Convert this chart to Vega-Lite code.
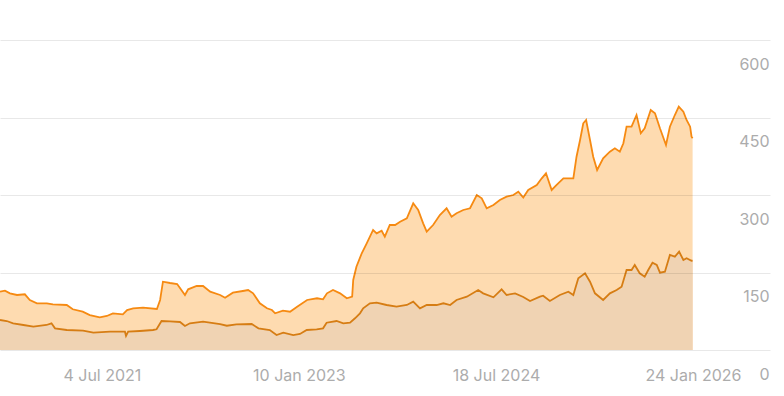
{
  "$schema": "https://vega.github.io/schema/vega-lite/v6.json",
  "width": 770,
  "height": 310,
  "autosize": {"type": "none"},
  "padding": {"left": 0, "top": 40, "right": 14, "bottom": 46},
  "background": "#ffffff",
  "config": {
    "view": {"stroke": null},
    "font": "Inter"
  },
  "datasets": {
    "upper": [
      {"date":"2020-09-20","value":112.8},{"date":"2020-10-04","value":114.8},{"date":"2020-10-18","value":109.7},{"date":"2020-11-07","value":106.5},{"date":"2020-11-29","value":107.8},{"date":"2020-12-13","value":96.8},{"date":"2021-01-02","value":90.4},{"date":"2021-01-30","value":90.4},{"date":"2021-02-16","value":88.5},{"date":"2021-03-27","value":87.1},{"date":"2021-04-13","value":78.8},{"date":"2021-05-11","value":74.1},{"date":"2021-05-31","value":67.7},{"date":"2021-06-28","value":63.3},{"date":"2021-07-18","value":65.8},{"date":"2021-08-04","value":71.0},{"date":"2021-09-01","value":69.1},{"date":"2021-09-13","value":77.4},{"date":"2021-09-30","value":80.7},{"date":"2021-10-28","value":81.9},{"date":"2021-12-06","value":79.4},{"date":"2021-12-15","value":96.8},{"date":"2021-12-23","value":132.2},{"date":"2022-01-12","value":129.7},{"date":"2022-02-01","value":127.7},{"date":"2022-02-23","value":106.5},{"date":"2022-03-04","value":117.5},{"date":"2022-03-28","value":123.9},{"date":"2022-04-15","value":123.9},{"date":"2022-05-05","value":112.8},{"date":"2022-06-02","value":106.5},{"date":"2022-06-16","value":101.2},{"date":"2022-07-08","value":110.9},{"date":"2022-08-05","value":114.2},{"date":"2022-08-20","value":116.1},{"date":"2022-09-03","value":109.7},{"date":"2022-09-22","value":90.4},{"date":"2022-10-12","value":80.7},{"date":"2022-10-26","value":77.4},{"date":"2022-11-04","value":71.0},{"date":"2022-11-26","value":76.1},{"date":"2022-12-16","value":74.1},{"date":"2023-01-05","value":83.8},{"date":"2023-02-02","value":96.8},{"date":"2023-03-02","value":100.1},{"date":"2023-03-19","value":98.1},{"date":"2023-03-30","value":109.7},{"date":"2023-04-16","value":116.1},{"date":"2023-05-06","value":109.7},{"date":"2023-05-25","value":100.1},{"date":"2023-06-09","value":103.2},{"date":"2023-06-12","value":135.5},{"date":"2023-06-21","value":161.2},{"date":"2023-07-06","value":187.2},{"date":"2023-07-20","value":206.5},{"date":"2023-08-07","value":232.3},{"date":"2023-08-17","value":225.9},{"date":"2023-08-31","value":230.9},{"date":"2023-09-09","value":219.3},{"date":"2023-09-23","value":241.9},{"date":"2023-10-08","value":241.9},{"date":"2023-10-22","value":248.3},{"date":"2023-11-10","value":254.9},{"date":"2023-11-28","value":283.9},{"date":"2023-12-12","value":271.0},{"date":"2023-12-26","value":245.2},{"date":"2024-01-05","value":229.0},{"date":"2024-01-23","value":241.9},{"date":"2024-02-11","value":261.3},{"date":"2024-03-01","value":274.3},{"date":"2024-03-15","value":258.0},{"date":"2024-03-29","value":264.6},{"date":"2024-04-17","value":271.0},{"date":"2024-05-06","value":274.3},{"date":"2024-05-25","value":300.0},{"date":"2024-06-08","value":293.6},{"date":"2024-06-22","value":274.3},{"date":"2024-07-11","value":280.6},{"date":"2024-07-29","value":290.3},{"date":"2024-08-17","value":296.7},{"date":"2024-09-05","value":300.0},{"date":"2024-09-19","value":306.4},{"date":"2024-10-03","value":295.2},{"date":"2024-10-17","value":309.7},{"date":"2024-11-10","value":319.4},{"date":"2024-11-24","value":332.3},{"date":"2024-12-06","value":342.0},{"date":"2024-12-22","value":309.7},{"date":"2025-01-05","value":319.4},{"date":"2025-01-24","value":332.3},{"date":"2025-02-21","value":332.3},{"date":"2025-03-02","value":374.1},{"date":"2025-03-12","value":406.5},{"date":"2025-03-21","value":438.8},{"date":"2025-03-29","value":445.2},{"date":"2025-04-09","value":406.5},{"date":"2025-04-18","value":374.1},{"date":"2025-04-29","value":348.4},{"date":"2025-05-16","value":371.0},{"date":"2025-06-04","value":383.8},{"date":"2025-06-18","value":390.4},{"date":"2025-07-02","value":383.8},{"date":"2025-07-12","value":400.1},{"date":"2025-07-21","value":432.2},{"date":"2025-08-04","value":432.2},{"date":"2025-08-18","value":454.8},{"date":"2025-08-30","value":419.4},{"date":"2025-09-10","value":429.1},{"date":"2025-09-27","value":464.5},{"date":"2025-10-09","value":458.1},{"date":"2025-10-23","value":429.1},{"date":"2025-11-09","value":396.8},{"date":"2025-11-20","value":432.2},{"date":"2025-12-04","value":454.8},{"date":"2025-12-15","value":470.9},{"date":"2025-12-28","value":461.2},{"date":"2026-01-06","value":445.2},{"date":"2026-01-16","value":432.2},{"date":"2026-01-20","value":412.8},{"date":"2026-01-23","value":410.0}
    ],
    "lower": [
      {"date":"2020-09-20","value":58.1},{"date":"2020-10-09","value":56.1},{"date":"2020-10-27","value":51.7},{"date":"2020-11-25","value":48.4},{"date":"2020-12-23","value":45.1},{"date":"2021-01-29","value":48.4},{"date":"2021-02-12","value":51.7},{"date":"2021-02-22","value":42.0},{"date":"2021-03-27","value":38.7},{"date":"2021-05-12","value":37.4},{"date":"2021-06-10","value":33.5},{"date":"2021-07-27","value":35.4},{"date":"2021-09-07","value":35.4},{"date":"2021-09-10","value":27.1},{"date":"2021-09-16","value":35.4},{"date":"2021-10-19","value":36.8},{"date":"2021-11-25","value":38.7},{"date":"2021-12-05","value":40.1},{"date":"2021-12-19","value":56.1},{"date":"2022-01-12","value":55.5},{"date":"2022-02-09","value":54.2},{"date":"2022-02-23","value":46.5},{"date":"2022-03-09","value":51.7},{"date":"2022-04-15","value":54.8},{"date":"2022-06-02","value":50.3},{"date":"2022-06-21","value":47.0},{"date":"2022-07-18","value":49.7},{"date":"2022-08-30","value":50.3},{"date":"2022-09-18","value":42.0},{"date":"2022-10-20","value":38.7},{"date":"2022-11-08","value":29.0},{"date":"2022-11-27","value":33.5},{"date":"2022-12-25","value":29.0},{"date":"2023-01-13","value":31.0},{"date":"2023-02-01","value":38.7},{"date":"2023-03-01","value":40.1},{"date":"2023-03-19","value":42.0},{"date":"2023-03-29","value":52.8},{"date":"2023-04-26","value":56.1},{"date":"2023-05-15","value":51.7},{"date":"2023-06-03","value":52.8},{"date":"2023-06-17","value":61.4},{"date":"2023-07-01","value":71.0},{"date":"2023-07-10","value":80.7},{"date":"2023-07-29","value":90.4},{"date":"2023-08-17","value":91.5},{"date":"2023-09-14","value":87.1},{"date":"2023-10-12","value":83.8},{"date":"2023-11-10","value":87.1},{"date":"2023-11-28","value":93.5},{"date":"2023-12-17","value":80.7},{"date":"2024-01-05","value":87.1},{"date":"2024-02-02","value":87.1},{"date":"2024-02-21","value":90.4},{"date":"2024-03-11","value":87.1},{"date":"2024-03-29","value":96.8},{"date":"2024-04-27","value":103.2},{"date":"2024-05-29","value":116.1},{"date":"2024-06-12","value":109.7},{"date":"2024-07-11","value":102.0},{"date":"2024-08-03","value":117.5},{"date":"2024-08-17","value":106.5},{"date":"2024-09-10","value":109.7},{"date":"2024-10-03","value":102.6},{"date":"2024-10-22","value":94.8},{"date":"2024-11-19","value":103.2},{"date":"2024-11-28","value":105.1},{"date":"2024-12-17","value":94.8},{"date":"2025-01-14","value":106.5},{"date":"2025-02-07","value":112.8},{"date":"2025-02-21","value":106.5},{"date":"2025-03-07","value":138.8},{"date":"2025-03-26","value":148.5},{"date":"2025-04-09","value":132.2},{"date":"2025-04-23","value":109.7},{"date":"2025-05-16","value":96.8},{"date":"2025-06-04","value":109.7},{"date":"2025-06-23","value":116.1},{"date":"2025-07-07","value":122.5},{"date":"2025-07-21","value":154.8},{"date":"2025-08-04","value":154.8},{"date":"2025-08-13","value":164.5},{"date":"2025-08-27","value":148.5},{"date":"2025-09-10","value":141.9},{"date":"2025-09-20","value":154.8},{"date":"2025-10-02","value":169.0},{"date":"2025-10-14","value":164.5},{"date":"2025-10-23","value":149.6},{"date":"2025-11-06","value":151.5},{"date":"2025-11-20","value":183.9},{"date":"2025-12-04","value":180.6},{"date":"2025-12-16","value":190.3},{"date":"2025-12-28","value":174.2},{"date":"2026-01-06","value":177.5},{"date":"2026-01-20","value":172.8},{"date":"2026-01-23","value":173.0}
    ]
  },
  "encoding": {
    "x": {
      "field": "date",
      "type": "temporal",
      "scale": {
        "type": "utc",
        "domain": [
          {"year": 2020, "month": 9, "date": 20, "utc": true},
          {"year": 2026, "month": 8, "date": 29, "utc": true}
        ]
      },
      "axis": {
        "title": null,
        "values": [
          {"year": 2021, "month": 7, "date": 4, "utc": true},
          {"year": 2023, "month": 1, "date": 10, "utc": true},
          {"year": 2024, "month": 7, "date": 18, "utc": true},
          {"year": 2026, "month": 1, "date": 24, "utc": true}
        ],
        "labelExpr": "utcFormat(datum.value, '%-d %b %Y')",
        "grid": false,
        "domain": false,
        "ticks": false,
        "tickSize": 0,
        "labelPadding": 17,
        "labelFontSize": 16,
        "labelColor": "#acacac",
        "labelFont": "Inter",
        "labelFlush": false
      }
    },
    "y": {
      "field": "value",
      "type": "quantitative",
      "scale": {"domain": [0, 600], "nice": false},
      "axis": {
        "title": null,
        "orient": "right",
        "values": [0, 150, 300, 450, 600],
        "grid": true,
        "gridColor": "#000000",
        "gridOpacity": 0.09,
        "gridWidth": 1,
        "domain": false,
        "ticks": false,
        "tickSize": 0,
        "labelAlign": "right",
        "labelBaseline": "alphabetic",
        "labelPadding": -1,
        "labelOffset": 29,
        "labelFontSize": 16,
        "labelColor": "#acacac",
        "labelFont": "Inter",
        "zindex": 1
      }
    }
  },
  "layer": [
    {"data": {"name": "upper"}, "mark": {"type": "area", "color": "#fedbb0", "opacity": 1}},
    {"data": {"name": "upper"}, "mark": {"type": "line", "color": "#f68a12", "strokeWidth": 1.8}},
    {"data": {"name": "lower"}, "mark": {"type": "area", "color": "#f0d3b3", "opacity": 1}},
    {"data": {"name": "lower"}, "mark": {"type": "line", "color": "#d67d14", "strokeWidth": 1.8}}
  ]
}
